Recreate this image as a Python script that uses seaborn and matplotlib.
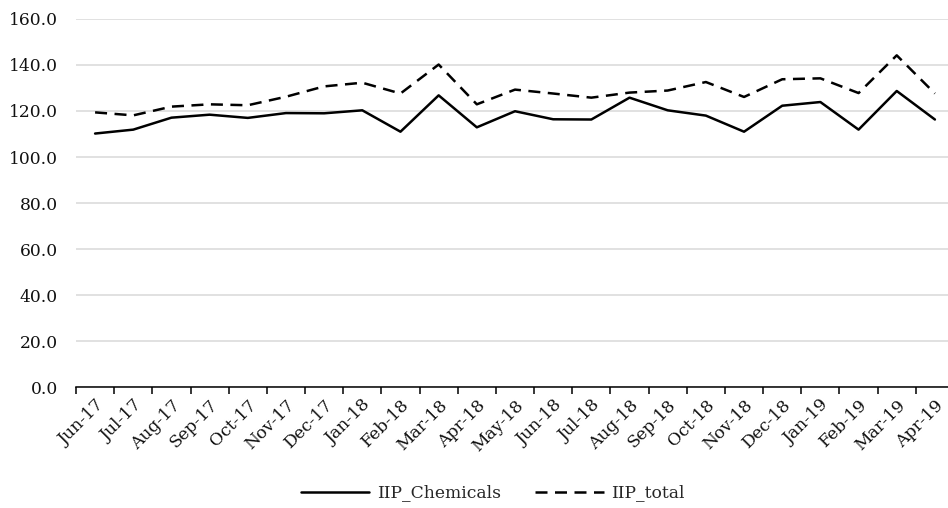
import matplotlib
matplotlib.use("Agg")
import matplotlib.pyplot as plt
from matplotlib.ticker import FixedLocator, NullFormatter, FixedFormatter
import seaborn as sns
import pandas as pd

months = ["Jun-17", "Jul-17", "Aug-17", "Sep-17", "Oct-17", "Nov-17", "Dec-17",
          "Jan-18", "Feb-18", "Mar-18", "Apr-18", "May-18", "Jun-18", "Jul-18",
          "Aug-18", "Sep-18", "Oct-18", "Nov-18", "Dec-18", "Jan-19", "Feb-19",
          "Mar-19", "Apr-19"]
iip_chemicals = [110.2, 111.9, 117.1, 118.4, 117.0, 119.1, 119.0, 120.3, 111.0,
                 126.8, 112.9, 119.9, 116.4, 116.3, 125.8, 120.3, 118.0, 111.0,
                 122.3, 123.9, 111.9, 128.7, 116.3]
iip_total = [119.4, 118.1, 121.9, 122.9, 122.5, 126.2, 130.7, 132.3, 127.6,
             140.2, 122.9, 129.3, 127.6, 125.8, 128.0, 128.9, 132.6, 126.1,
             133.8, 134.2, 127.8, 144.2, 127.6]
y_ticks = [0, 20, 40, 60, 80, 100, 120, 140, 160]

sns.set_theme(style="white")
plt.rcParams["font.family"] = ["DejaVu Serif"]

FS = 12.3
pos = list(range(len(months)))
df = pd.DataFrame({
    "pos": pos * 2,
    "value": iip_chemicals + iip_total,
    "series": ["IIP_Chemicals"] * len(months) + ["IIP_total"] * len(months),
})

fig = plt.figure(figsize=(9.48, 5.08), dpi=100)
ax = fig.add_axes([76 / 948, 121 / 508, (954 - 76) / 948, (387 - 19) / 508])

sns.lineplot(data=df, x="pos", y="value", style="series",
             dashes={"IIP_Chemicals": "", "IIP_total": (4.8, 3.0)},
             color="black", linewidth=1.8, ax=ax, legend=True)

ax.set_xlim(-0.5, len(months) - 0.5)
ax.set_ylim(0, 160)
ax.set_xlabel("")
ax.set_ylabel("")

# y axis: light horizontal gridlines, one-decimal labels
ax.set_yticks(y_ticks)
ax.set_yticklabels([f"{v:.1f}" for v in y_ticks], fontsize=FS, color="#111111")
ax.yaxis.grid(True, color="#d9d9d9", linewidth=1.1)
ax.xaxis.grid(False)
ax.tick_params(axis="y", length=0, pad=13)
ax.set_axisbelow(True)

# x axis: tick marks between categories, labels at category centres
ax.xaxis.set_major_locator(FixedLocator([p - 0.5 for p in pos] + [len(months) - 0.5]))
ax.xaxis.set_major_formatter(NullFormatter())
ax.xaxis.set_minor_locator(FixedLocator(pos))
ax.xaxis.set_minor_formatter(FixedFormatter(months))
ax.tick_params(axis="x", which="major", direction="out", length=5, width=1.1,
               color="black", bottom=True)
ax.tick_params(axis="x", which="minor", length=0, pad=7, labelsize=FS,
               labelcolor="#111111", bottom=True)
for lbl in ax.xaxis.get_minorticklabels():
    lbl.set_rotation(45)
    lbl.set_ha("right")
    lbl.set_va("top")
    lbl.set_rotation_mode("anchor")

for side in ["top", "right", "left"]:
    ax.spines[side].set_visible(False)
ax.spines["bottom"].set_color("black")
ax.spines["bottom"].set_linewidth(1.1)

handles, labels = ax.get_legend_handles_labels()
ax.legend(handles, labels, loc="center", bbox_to_anchor=(493 / 948, 15 / 508),
          bbox_transform=fig.transFigure, ncol=2, frameon=False, fontsize=FS,
          handlelength=4.0, handletextpad=0.45, columnspacing=2.0)

fig.savefig("out.png", dpi=100)
